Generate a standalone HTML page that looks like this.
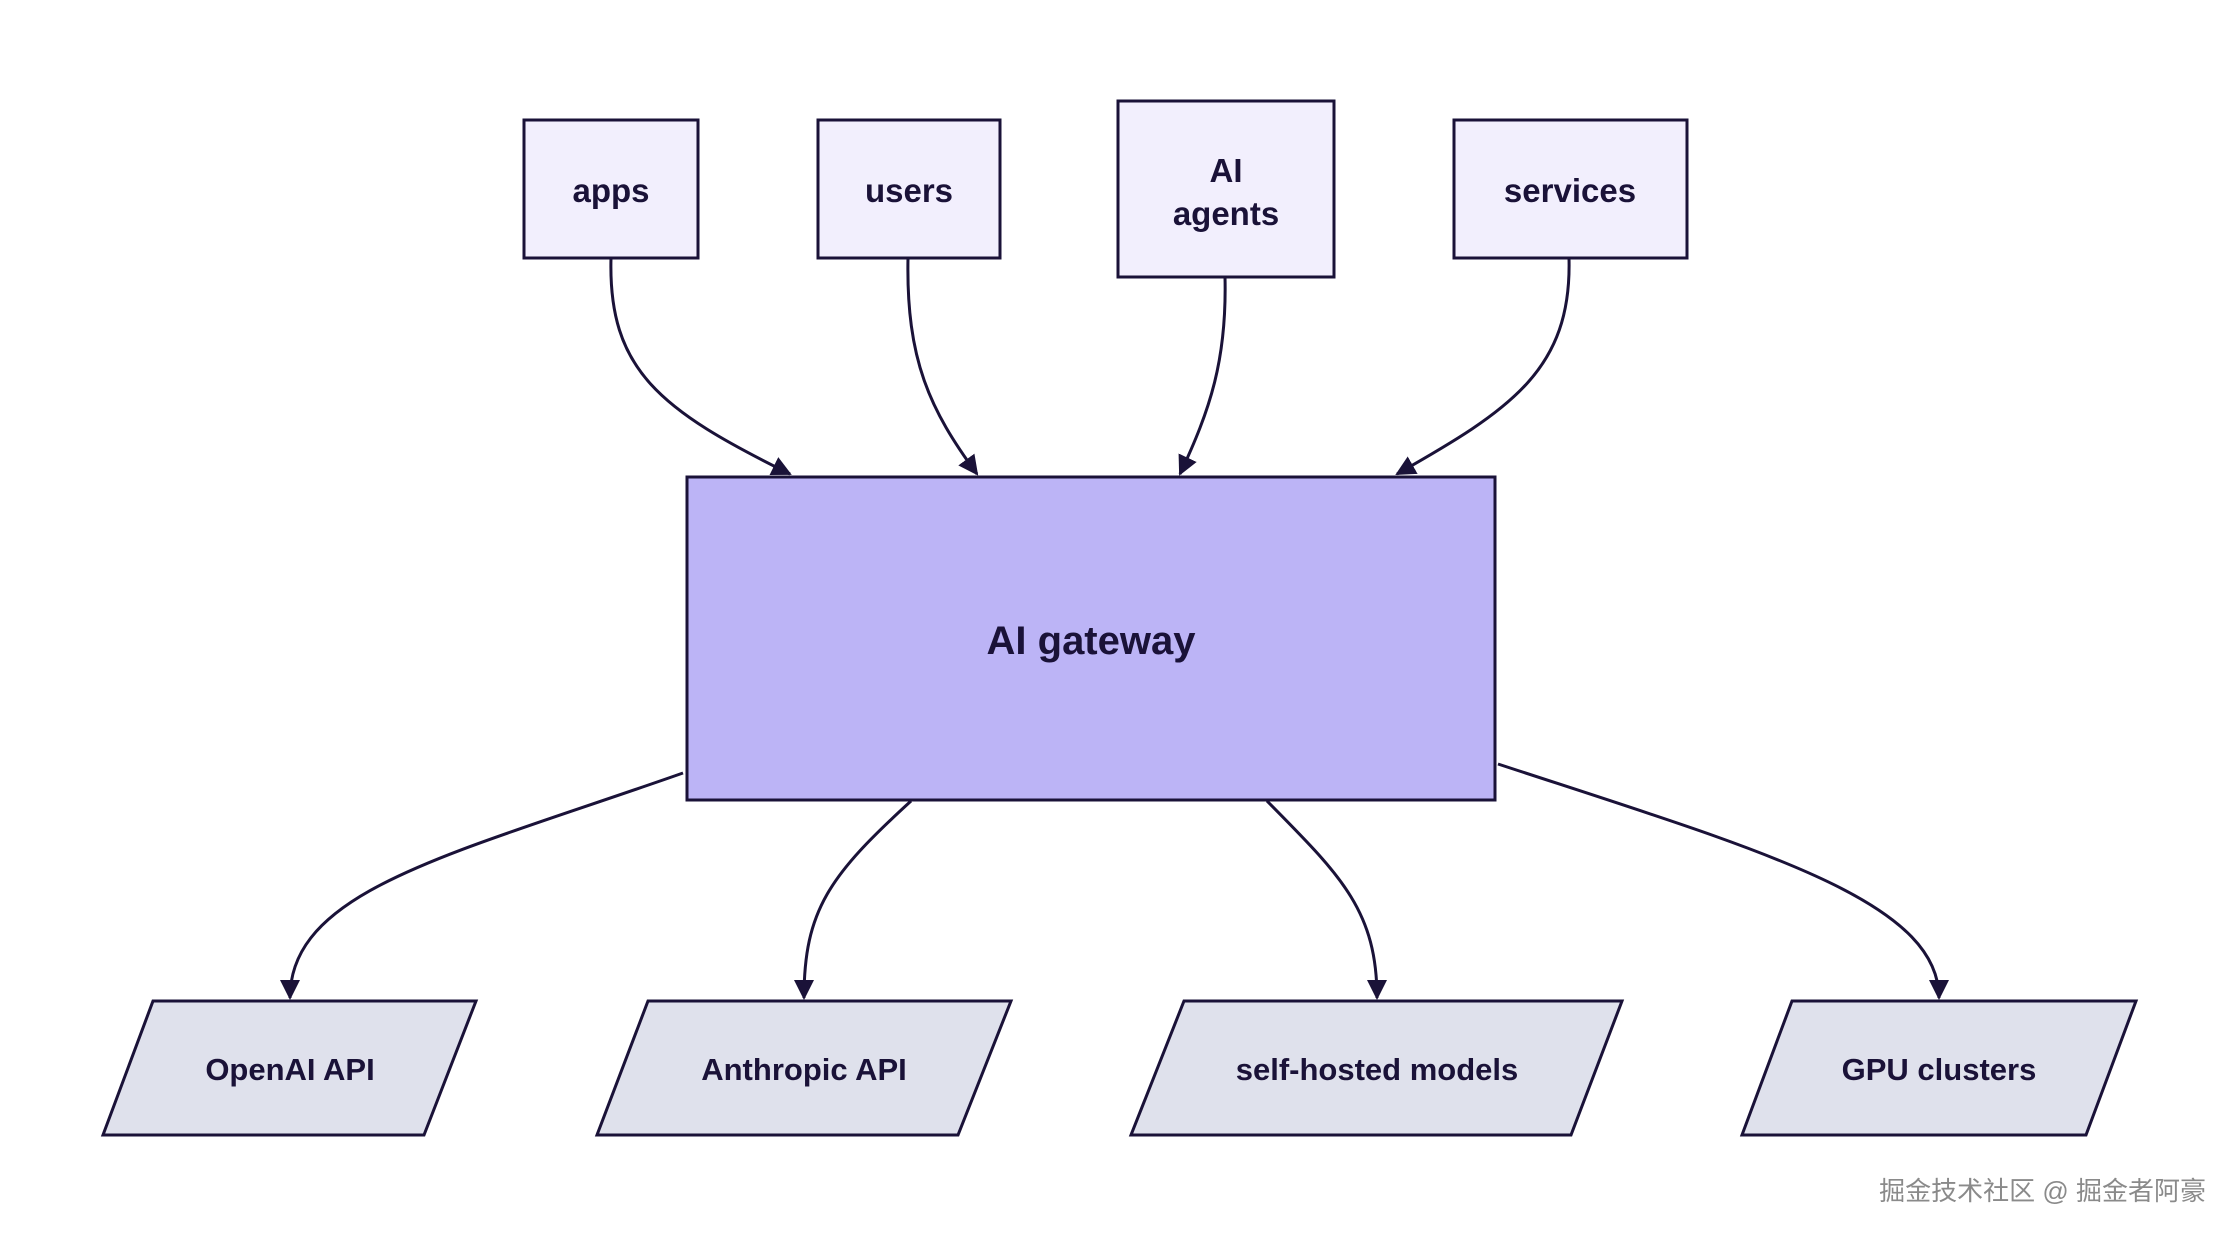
<!DOCTYPE html>
<html><head><meta charset="utf-8"><style>
html,body{margin:0;padding:0;background:#fff;}
svg text{font-family:"Liberation Sans",sans-serif;font-weight:bold;fill:#1a1238;}
</style></head><body>
<svg width="2220" height="1228" viewBox="0 0 2220 1228" xmlns="http://www.w3.org/2000/svg">
<defs><marker id="a" viewBox="0 0 10 10" refX="9" refY="5" markerWidth="8" markerHeight="8" orient="auto" markerUnits="userSpaceOnUse"><path d="M0,0 L10,5 L0,10 z" fill="#1a1238"/></marker>
<marker id="b" viewBox="0 0 10 10" refX="9" refY="5" markerWidth="20" markerHeight="20" orient="auto" markerUnits="userSpaceOnUse"><path d="M0,0 L10,5 L0,10 z" fill="#1a1238"/></marker></defs>
<g stroke="#1a1238" stroke-width="3">
<rect x="524" y="120" width="174" height="138" fill="#f2effd"/>
<rect x="818" y="120" width="182" height="138" fill="#f2effd"/>
<rect x="1118" y="101" width="216" height="176" fill="#f2effd"/>
<rect x="1454" y="120" width="233" height="138" fill="#f2effd"/>
<rect x="687" y="477" width="808" height="323" fill="#bcb4f6"/>
<polygon points="153,1001 476,1001 424,1135 103,1135" fill="#dfe1ec"/>
<polygon points="648,1001 1011,1001 958,1135 597,1135" fill="#dfe1ec"/>
<polygon points="1184,1001 1622,1001 1571,1135 1131,1135" fill="#dfe1ec"/>
<polygon points="1792,1001 2136,1001 2086,1135 1742,1135" fill="#dfe1ec"/>
</g>
<g stroke="#1a1238" stroke-width="3" fill="none" marker-end="url(#b)">
<path d="M611,258 C608,370 660,410 790,474"/>
<path d="M908,258 C906,360 930,410 977,474"/>
<path d="M1225,277 C1227,360 1210,410 1180,474"/>
<path d="M1569,258 C1572,370 1510,410 1397,474"/>
<path d="M683,773 C450,855 290,890 290,998"/>
<path d="M911,801 C830,875 804,910 804,998"/>
<path d="M1267,801 C1340,875 1377,910 1377,998"/>
<path d="M1498,764 C1760,850 1939,900 1939,998"/>
</g>
<g text-anchor="middle" font-size="33">
<text x="611" y="202">apps</text>
<text x="909" y="202">users</text>
<text x="1226" y="182">AI</text>
<text x="1226" y="225">agents</text>
<text x="1570" y="202">services</text>
<text x="1091" y="654" font-size="40">AI gateway</text>
<text x="290" y="1080" font-size="31">OpenAI API</text>
<text x="804" y="1080" font-size="31">Anthropic API</text>
<text x="1377" y="1080" font-size="31">self-hosted models</text>
<text x="1939" y="1080" font-size="31">GPU clusters</text>
</g>
<text x="2206" y="1200" text-anchor="end" font-size="26" style="font-family:'Liberation Sans','Noto Sans CJK SC',sans-serif;font-weight:normal;fill:#8a8a8a">掘金技术社区 @ 掘金者阿豪</text>
</svg>
</body></html>
